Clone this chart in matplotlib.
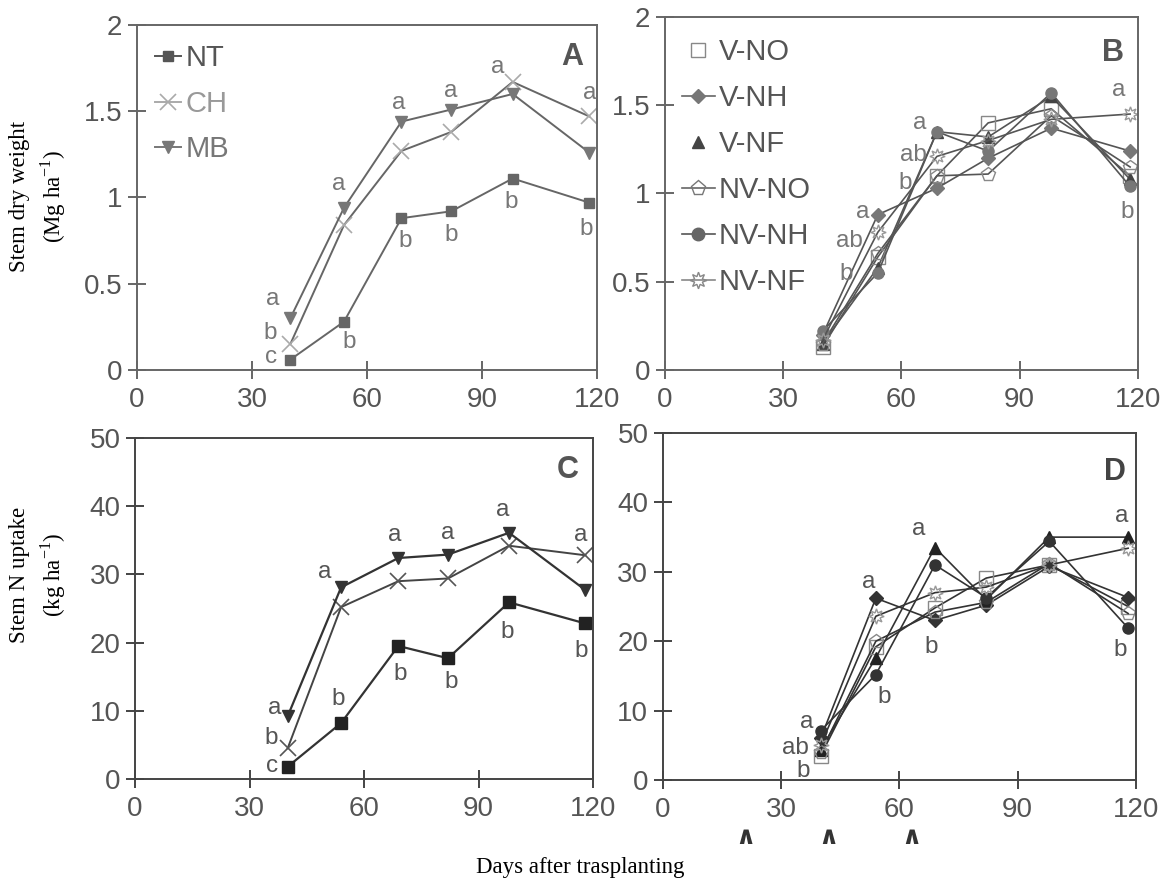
import matplotlib
matplotlib.use("Agg")
import matplotlib.pyplot as plt
from matplotlib.lines import Line2D

plt.rcParams['font.family'] = ['Liberation Sans', 'DejaVu Sans']

days = [40, 54, 69, 82, 98, 118]

# Panel A: stem dry weight (Mg/ha)
A_NT = [0.06, 0.28, 0.88, 0.92, 1.11, 0.97]
A_CH = [0.15, 0.84, 1.27, 1.38, 1.67, 1.47]
A_MB = [0.30, 0.94, 1.44, 1.51, 1.60, 1.26]

# Panel B: stem dry weight (Mg/ha)
B_VNO = [0.13, 0.64, 1.10, 1.40, 1.48, 1.10]
B_VNH = [0.20, 0.88, 1.03, 1.20, 1.37, 1.24]
B_VNF = [0.15, 0.58, 1.35, 1.32, 1.55, 1.08]
B_NVNO = [0.15, 0.66, 1.10, 1.11, 1.44, 1.15]
B_NVNH = [0.22, 0.55, 1.35, 1.24, 1.57, 1.04]
B_NVNF = [0.17, 0.78, 1.21, 1.30, 1.42, 1.45]

# Panel C: stem N uptake (kg/ha)
C_NT = [1.8, 8.2, 19.5, 17.7, 25.9, 22.8]
C_CH = [4.5, 25.2, 29.0, 29.4, 34.2, 32.8]
C_MB = [9.2, 28.1, 32.4, 32.9, 36.1, 27.7]

# Panel D: stem N uptake (kg/ha)
D_VNO = [3.5, 19.2, 24.8, 29.1, 31.0, 25.0]
D_VNH = [6.0, 26.2, 23.0, 25.2, 30.8, 26.3]
D_VNF = [4.4, 17.6, 33.5, 26.0, 35.0, 35.0]
D_NVNO = [4.0, 20.0, 24.2, 25.6, 31.2, 24.0]
D_NVNH = [7.1, 15.2, 31.0, 26.3, 34.4, 21.9]
D_NVNF = [5.0, 23.6, 27.0, 27.8, 31.0, 33.4]

xticks = [0, 30, 60, 90, 120]
xticklabels = ['0', '30', '60', '90', '120']
yticks_dw = [0, 0.5, 1, 1.5, 2]
yticklabels_dw = ['0', '0.5', '1', '1.5', '2']
yticks_n = [0, 10, 20, 30, 40, 50]
yticklabels_n = ['0', '10', '20', '30', '40', '50']

# significance letters: (day, y, letter)
A_letters = [(35.4, 0.41, 'a'), (34.8, 0.215, 'b'), (35.0, 0.075, 'c'),
             (52.7, 1.08, 'a'), (55.3, 0.165, 'b'),
             (68.2, 1.545, 'a'), (69.9, 0.75, 'b'),
             (81.8, 1.615, 'a'), (82.0, 0.785, 'b'),
             (94.1, 1.755, 'a'), (97.7, 0.975, 'b'),
             (118.2, 1.605, 'a'), (117.2, 0.815, 'b')]
B_letters = [(64.7, 1.40, 'a'), (63.0, 1.22, 'ab'), (60.9, 1.057, 'b'),
             (50.1, 0.895, 'a'), (46.8, 0.733, 'ab'), (45.9, 0.543, 'b'),
             (115.2, 1.585, 'a'), (117.3, 0.895, 'b')]
C_letters = [(36.6, 10.4, 'a'), (35.8, 6.0, 'b'), (35.8, 1.96, 'c'),
             (49.6, 30.3, 'a'), (53.2, 11.7, 'b'),
             (68.1, 35.7, 'a'), (69.4, 15.4, 'b'),
             (82.0, 36.1, 'a'), (82.9, 14.2, 'b'),
             (96.4, 39.4, 'a'), (97.5, 21.5, 'b'),
             (116.9, 35.8, 'a'), (116.9, 18.7, 'b')]
D_letters = [(36.4, 8.3, 'a'), (33.6, 4.6, 'ab'), (35.7, 1.35, 'b'),
             (52.1, 28.6, 'a'), (56.1, 12.0, 'b'),
             (64.9, 36.1, 'a'), (68.1, 19.2, 'b'),
             (116.3, 38.0, 'a'), (116.1, 18.75, 'b')]
D_carets = [21, 42, 63]

fig = plt.figure(figsize=(11.68, 8.83), dpi=100)
axA = fig.add_axes([0.1173, 0.5810, 0.3938, 0.3907])
axB = fig.add_axes([0.5693, 0.5810, 0.4050, 0.3998])
axC = fig.add_axes([0.1156, 0.1178, 0.3921, 0.3862])
axD = fig.add_axes([0.5676, 0.1166, 0.4050, 0.3930])

tick_col = '#555555'


def style(ax, yticks, ylabels, ymax, spine_col):
    ax.set_xlim(0, 120)
    ax.set_ylim(0, ymax)
    ax.set_xticks(xticks)
    ax.set_xticklabels(xticklabels)
    ax.set_yticks(yticks)
    ax.set_yticklabels(ylabels)
    for s in ax.spines.values():
        s.set_color(spine_col)
        s.set_linewidth(1.4)
    ax.tick_params(direction='inout', length=13, width=1.4, colors=spine_col,
                   labelsize=20, labelcolor=tick_col)
    ax.tick_params(axis='x', pad=6)
    ax.tick_params(axis='y', pad=4)


style(axA, yticks_dw, yticklabels_dw, 2, '#666666')
style(axB, yticks_dw, yticklabels_dw, 2, '#666666')
style(axC, yticks_n, yticklabels_n, 50, '#444444')
style(axD, yticks_n, yticklabels_n, 50, '#444444')

ms = 8
lw = 1.4
# Panel A
axA.plot(days, A_NT, color='#666666', lw=lw, marker='s', ms=ms - 1, mfc='#666666', mec='#666666')
axA.plot(days, A_CH, color='#666666', lw=lw, marker='x', ms=ms + 4, mec='#aaaaaa', mew=1.2)
axA.plot(days, A_MB, color='#666666', lw=lw, marker='v', ms=ms + 1, mfc='#777777', mec='#777777')

# Panel C
axC.plot(days, C_NT, color='#333333', lw=lw + 0.2, marker='s', ms=ms, mfc='#222222', mec='#222222')
axC.plot(days, C_CH, color='#444444', lw=lw, marker='x', ms=ms + 4, mec='#555555', mew=1.2)
axC.plot(days, C_MB, color='#333333', lw=lw + 0.2, marker='v', ms=ms + 1, mfc='#333333', mec='#333333')

star8 = (8, 1, 0)


def plot_six(ax, vno, vnh, vnf, nvno, nvnh, nvnf, c_line, c_fill, c_dark):
    ax.plot(days, vno, color=c_line, lw=1.2, marker='s', ms=ms + 2, mfc='none', mec='#888888')
    ax.plot(days, vnh, color=c_line, lw=1.2, marker='D', ms=ms - 1, mfc=c_fill, mec=c_fill)
    ax.plot(days, vnf, color=c_line, lw=1.2, marker='^', ms=ms + 1, mfc=c_dark, mec=c_dark)
    ax.plot(days, nvno, color=c_line, lw=1.2, marker='p', ms=ms + 2, mfc='none', mec='#888888')
    ax.plot(days, nvnh, color=c_line, lw=1.2, marker='o', ms=ms, mfc=c_fill, mec=c_fill)
    ax.plot(days, nvnf, color=c_line, lw=1.2, marker=star8, ms=ms + 3, mfc='none', mec='#999999')


plot_six(axB, B_VNO, B_VNH, B_VNF, B_NVNO, B_NVNH, B_NVNF, '#555555', '#777777', '#444444')
plot_six(axD, D_VNO, D_VNH, D_VNF, D_NVNO, D_NVNH, D_NVNF, '#333333', '#333333', '#222222')

# letters
for ax, letters, col in [(axA, A_letters, '#777777'), (axB, B_letters, '#777777'),
                         (axC, C_letters, '#555555'), (axD, D_letters, '#555555')]:
    for x, y, t in letters:
        ax.text(x, y, t, ha='center', va='center', fontsize=17.5, color=col)

# panel letters
for ax, t, (px, py), col in [(axA, 'A', (0.946, 0.906), '#555555'), (axB, 'B', (0.947, 0.897), '#555555'),
                             (axC, 'C', (0.945, 0.906), '#555555'), (axD, 'D', (0.956, 0.888), '#444444')]:
    ax.text(px, py, t, transform=ax.transAxes, ha='center', va='center',
            fontsize=22, fontweight='bold', color=col)

# carets under panel D (application dates)
for d in D_carets:
    axD.text(d, -0.163, '\u2227', transform=axD.get_xaxis_transform(), ha='center', va='center',
             fontsize=18, fontweight='bold', color='#333333', clip_on=False,
             family='DejaVu Sans')

# legends
hA = [Line2D([], [], color='#555555', lw=lw, marker='s', ms=ms - 1, mfc='#555555', mec='#555555'),
      Line2D([], [], color='#aaaaaa', lw=lw, marker='x', ms=ms + 4, mec='#aaaaaa', mew=1.2),
      Line2D([], [], color='#777777', lw=lw, marker='v', ms=ms + 1, mfc='#777777', mec='#777777')]
legA = axA.legend(hA, ['NT', 'CH', 'MB'], loc='upper left', bbox_to_anchor=(0.0, 0.995),
                  frameon=False, fontsize=21, handlelength=0.9, handletextpad=0.15,
                  labelspacing=0.6, borderpad=0.1)
for t, c in zip(legA.get_texts(), ['#555555', '#999999', '#777777']):
    t.set_color(c)

hB = [Line2D([], [], color='none', lw=0, marker='s', ms=ms + 2, mfc='none', mec='#888888'),
      Line2D([], [], color='#666666', lw=1.2, marker='D', ms=ms - 1, mfc='#777777', mec='#777777'),
      Line2D([], [], color='none', lw=0, marker='^', ms=ms + 1, mfc='#444444', mec='#444444'),
      Line2D([], [], color='#666666', lw=1.2, marker='p', ms=ms + 3, mfc='none', mec='#777777'),
      Line2D([], [], color='#555555', lw=1.2, marker='o', ms=ms + 1, mfc='#666666', mec='#666666'),
      Line2D([], [], color='#888888', lw=1.2, marker=star8, ms=ms + 4, mfc='none', mec='#888888')]
legB = axB.legend(hB, ['V-NO', 'V-NH', 'V-NF', 'NV-NO', 'NV-NH', 'NV-NF'], loc='upper left',
                  bbox_to_anchor=(0.0, 0.99), frameon=False, fontsize=21, handlelength=1.1,
                  handletextpad=0.15, labelspacing=0.62, borderpad=0.1)
for t in legB.get_texts():
    t.set_color('#555555')

# axis labels
fig.text(0.033, 0.778, 'Stem dry weight\n(Mg ha$^{\\mathregular{-1}}$)', rotation=90, ha='center',
         va='center', fontsize=16.5, family='Liberation Serif', linespacing=1.35)
fig.text(0.033, 0.349, 'Stem N uptake\n(kg ha$^{\\mathregular{-1}}$)', rotation=90, ha='center',
         va='center', fontsize=16.5, family='Liberation Serif', linespacing=1.35)
fig.text(0.497, 0.0175, 'Days after trasplanting', ha='center', va='center',
         fontsize=16.5, family='Liberation Serif')

fig.savefig('out.png', dpi=100)
